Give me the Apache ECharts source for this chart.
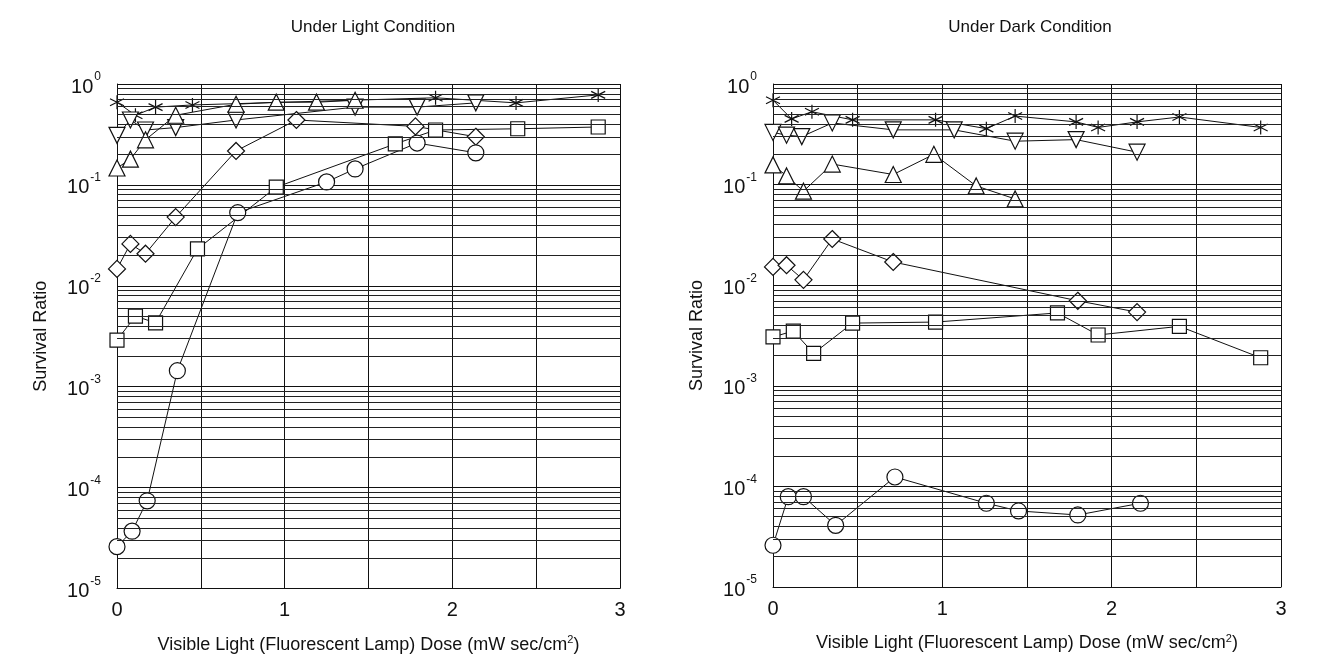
<!DOCTYPE html>
<html>
<head>
    <meta charset="UTF-8">
    <title>Survival Ratio</title>
    <script src="https://cdn.jsdelivr.net/npm/echarts@6/dist/echarts.min.js"></script>
</head>
<body style="margin: 0; background: #fff;">
<div id="container" style="width: 1342px; height: 659px;"></div>
<script type="text/javascript">
    // dose (x) and survival ratio (y)
    var lightStarX = [0, 0.11, 0.23, 0.45, 1.90, 2.38, 2.87];
    var lightStarY = [0.66, 0.49, 0.59, 0.62, 0.73, 0.65, 0.78];
    var lightDownX = [0, 0.08, 0.17, 0.35, 0.71, 1.42, 1.79, 2.14];
    var lightDownY = [0.31, 0.44, 0.35, 0.37, 0.44, 0.59, 0.59, 0.65];
    var lightUpX = [0, 0.08, 0.17, 0.35, 0.71, 0.95, 1.19, 1.42];
    var lightUpY = [0.147, 0.18, 0.28, 0.49, 0.63, 0.66, 0.66, 0.69];
    var lightDiamondX = [0, 0.08, 0.17, 0.35, 0.71, 1.07, 1.78, 2.14];
    var lightDiamondY = [0.0147, 0.026, 0.0208, 0.048, 0.217, 0.44, 0.38, 0.30];
    var lightSquareX = [0, 0.11, 0.23, 0.48, 0.95, 1.66, 1.90, 2.39, 2.87];
    var lightSquareY = [0.0029, 0.005, 0.0043, 0.0232, 0.095, 0.255, 0.35, 0.36, 0.375];
    var lightCircleX = [0, 0.09, 0.18, 0.36, 0.72, 1.25, 1.42, 1.79, 2.14];
    var lightCircleY = [2.6e-5, 3.7e-5, 7.4e-5, 1.44e-3, 0.053, 0.107, 0.144, 0.26, 0.208];

    var darkStarX = [0, 0.11, 0.23, 0.47, 0.96, 1.26, 1.43, 1.79, 1.92, 2.15, 2.40, 2.88];
    var darkStarY = [0.69, 0.45, 0.53, 0.44, 0.44, 0.36, 0.48, 0.42, 0.37, 0.42, 0.47, 0.37];
    var darkDownX = [0, 0.08, 0.17, 0.35, 0.71, 1.07, 1.43, 1.79, 2.15];
    var darkDownY = [0.33, 0.31, 0.30, 0.41, 0.35, 0.35, 0.27, 0.28, 0.21];
    var darkUpX = [0, 0.08, 0.18, 0.35, 0.71, 0.95, 1.20, 1.43];
    var darkUpY = [0.157, 0.122, 0.086, 0.16, 0.126, 0.20, 0.097, 0.072];
    var darkDiamondX = [0, 0.08, 0.18, 0.35, 0.71, 1.80, 2.15];
    var darkDiamondY = [0.0152, 0.0158, 0.0113, 0.0288, 0.017, 0.0070, 0.0054];
    var darkSquareX = [0, 0.12, 0.24, 0.47, 0.96, 1.68, 1.92, 2.40, 2.88];
    var darkSquareY = [0.00306, 0.0035, 0.0021, 0.0042, 0.0043, 0.0053, 0.0032, 0.0039, 0.0019];
    var darkCircleX = [0, 0.09, 0.18, 0.37, 0.72, 1.26, 1.45, 1.80, 2.17];
    var darkCircleY = [2.6e-5, 7.9e-5, 7.9e-5, 4.1e-5, 1.24e-4, 6.8e-5, 5.7e-5, 5.2e-5, 6.8e-5];

    var titles = ['Under Light Condition', 'Under Dark Condition'];
    var xTicks = ['0', '1', '2', '3'];

    var FONT = '"Liberation Sans", Arial, sans-serif';
    var starPath = 'path://M0,-10 L0,10 M-8.66,-5 L8.66,5 M-8.66,5 L8.66,-5';
    var downTri = 'path://M0,0 L20,0 L10,18 Z';

    var dom = document.getElementById("container");
    var myChart = echarts.init(dom);

    function zip(xs, ys) {
        var out = [];
        for (var i = 0; i < xs.length; i++) {
            out.push([xs[i], ys[i]]);
        }
        return out;
    }

    // minor log grid lines 2..9 x 10^d
    var minorLines = [];
    for (var d = -5; d < 0; d++) {
        for (var k = 2; k < 10; k++) {
            minorLines.push({yAxis: k * Math.pow(10, d)});
        }
    }

    function gridSeries(idx) {
        return {
            type: 'line',
            xAxisIndex: idx,
            yAxisIndex: idx,
            data: [],
            silent: true,
            z: 1,
            markLine: {
                silent: true,
                symbol: 'none',
                precision: 12,
                animation: false,
                label: {show: false},
                lineStyle: {color: '#222', width: 1, type: 'solid'},
                data: minorLines
            }
        };
    }

    function makeSeries(idx, xs, ys, symbol, size) {
        return {
            type: 'line',
            xAxisIndex: idx,
            yAxisIndex: idx,
            data: zip(xs, ys),
            symbol: symbol,
            symbolSize: size,
            showAllSymbol: true,
            animation: false,
            z: 3,
            lineStyle: {color: '#111', width: 1},
            itemStyle: {color: '#fff', borderColor: '#111', borderWidth: 1.2}
        };
    }

    function yAxisFor(idx) {
        return {
            type: 'log',
            gridIndex: idx,
            logBase: 10,
            min: 1e-5,
            max: 1,
            name: 'Survival Ratio',
            nameLocation: 'middle',
            nameGap: 67,
            nameTextStyle: {fontFamily: FONT, fontSize: 18, color: '#111'},
            axisLine: {show: true, lineStyle: {color: '#111', width: 1}},
            axisTick: {show: false},
            splitLine: {show: true, lineStyle: {color: '#111', width: 1}},
            axisLabel: {
                margin: 16,
                color: '#111',
                fontFamily: FONT,
                formatter: function (v) {
                    var e = Math.round(Math.log(v) / Math.LN10);
                    return '{b|10}{s|' + e + '}';
                },
                rich: {
                    b: {fontSize: 20, fontFamily: FONT, color: '#111', lineHeight: 26, verticalAlign: 'bottom'},
                    s: {fontSize: 12, fontFamily: FONT, color: '#111', lineHeight: 26, verticalAlign: 'top', padding: [0, 0, 12, 1]}
                }
            }
        };
    }

    function xAxisFor(idx) {
        return {
            type: 'value',
            gridIndex: idx,
            min: 0,
            max: 3,
            interval: 0.5,
            name: 'Visible Light (Fluorescent Lamp) Dose (mW sec/cm{s|2})',
            nameLocation: 'middle',
            nameGap: 46,
            nameTextStyle: {
                fontFamily: FONT, fontSize: 18, color: '#111',
                rich: {s: {fontSize: 11, fontFamily: FONT, color: '#111', verticalAlign: 'top', padding: [0, 0, 10, 0]}}
            },
            axisLine: {show: true, lineStyle: {color: '#111', width: 1}},
            axisTick: {show: false},
            splitLine: {show: true, lineStyle: {color: '#111', width: 1}},
            axisLabel: {
                margin: 12,
                fontFamily: FONT,
                fontSize: 20,
                color: '#111',
                formatter: function (v) {
                    return Math.abs(v - Math.round(v)) < 1e-9 ? xTicks[Math.round(v)] : '';
                }
            }
        };
    }

    var option = {
        backgroundColor: '#fff',
        animation: false,
        title: [
            {text: titles[0], left: 368, top: 14, textAlign: 'center',
                textStyle: {fontFamily: FONT, fontSize: 17, fontWeight: 'normal', color: '#111'}},
            {text: titles[1], left: 1025, top: 14, textAlign: 'center',
                textStyle: {fontFamily: FONT, fontSize: 17, fontWeight: 'normal', color: '#111'}}
        ],
        grid: [
            {left: 117, top: 84, width: 503, height: 505},
            {left: 773, top: 84, width: 508, height: 503}
        ],
        xAxis: [xAxisFor(0), xAxisFor(1)],
        yAxis: [yAxisFor(0), yAxisFor(1)],
        series: [
            gridSeries(0),
            gridSeries(1),
            makeSeries(0, lightStarX, lightStarY, starPath, 14),
            makeSeries(0, lightDownX, lightDownY, downTri, 16),
            makeSeries(0, lightUpX, lightUpY, 'triangle', 16),
            makeSeries(0, lightDiamondX, lightDiamondY, 'diamond', 17),
            makeSeries(0, lightSquareX, lightSquareY, 'rect', 14),
            makeSeries(0, lightCircleX, lightCircleY, 'circle', 16),
            makeSeries(1, darkStarX, darkStarY, starPath, 14),
            makeSeries(1, darkDownX, darkDownY, downTri, 16),
            makeSeries(1, darkUpX, darkUpY, 'triangle', 16),
            makeSeries(1, darkDiamondX, darkDiamondY, 'diamond', 17),
            makeSeries(1, darkSquareX, darkSquareY, 'rect', 14),
            makeSeries(1, darkCircleX, darkCircleY, 'circle', 16)
        ]
    };

    if (option && typeof option === "object") {
        myChart.setOption(option, true);
    }
</script>
</body>
</html>
